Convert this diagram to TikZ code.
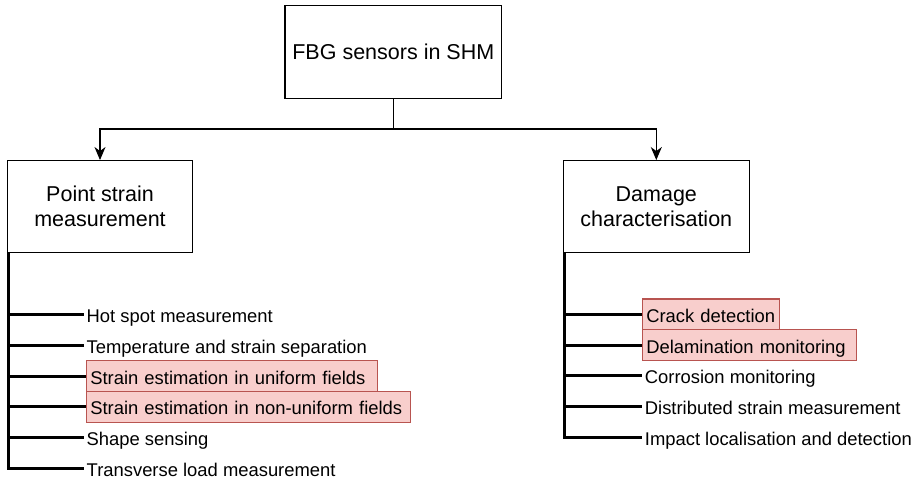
\documentclass[tikz,border=0pt]{standalone}
\usepackage{fontspec}
\setmainfont{Liberation Sans}
\usetikzlibrary{arrows.meta}
\definecolor{redfill}{HTML}{F8CECC}
\definecolor{redline}{HTML}{B85450}
\begin{document}
\begin{tikzpicture}[x=1pt,y=-1pt,
  box/.style={draw, line width=1.3pt, align=center, inner sep=0pt, font=\fontsize{21.5}{25}\selectfont},
  conn/.style={line width=1.3pt, -{Stealth[length=13pt,width=11pt,inset=4pt]}},
  trunk/.style={line width=3pt},
  item/.style={anchor=west, inner xsep=3pt, inner ysep=4pt, text height=19.5pt, text depth=3.5pt, font=\fontsize{18.4}{22}\selectfont},
  hl/.style={item, fill=redfill, draw=redline, line width=1.2pt, inner xsep=4pt}]
\useasboundingbox (0,0) rectangle (917,482);

% main boxes
\node[box, minimum width=216.7pt, minimum height=92.6pt] (top) at (393.3,52) {FBG sensors in SHM};
\node[box, minimum width=185.4pt, minimum height=92pt] (lb) at (100,206.7) {Point strain\\measurement};
\node[box, minimum width=186pt, minimum height=92pt] (rb) at (656.3,206.7) {Damage\\characterisation};

% connectors from the root
\coordinate (sp) at (394,129);
\draw[conn] (top.south) -- (top.south |- sp) -| (lb.north);
\draw[conn] (top.south) -- (top.south |- sp) -| (rb.north);

% left items
\node[item] (l1) at (83.5,314.5) {Hot spot measurement};
\node[item] (l2) at (83.5,345.2) {Temperature and strain separation};
\node[hl, text width=283pt] (l3) at (85.7,376.2) {\mbox{Strain estimation in uniform fields}};
\node[hl, text width=315.8pt] (l4) at (85.7,406.9) {\mbox{Strain estimation in non-uniform fields}};
\node[item] (l5) at (83.5,437.3) {Shape sensing};
\node[item] (l6) at (83.5,468) {Transverse load measurement};

\coordinate (lt) at ([xshift=1.4pt]lb.south west);
\foreach \n in {l1,l2,l3,l4,l5,l6}{\draw[trunk] (lt) |- (\n.west);}

% right items
\node[hl, text width=129.5pt] (r1) at (641.7,314.5) {\mbox{Crack detection}};
\node[hl, text width=206.4pt] (r2) at (641.7,345.2) {\mbox{Delamination monitoring}};
\node[item] (r3) at (641.7,375.9) {Corrosion monitoring};
\node[item] (r4) at (641.7,406.6) {Distributed strain measurement};
\node[item] (r5) at (641.7,437.3) {Impact localisation and detection};

\coordinate (rt) at ([xshift=1.4pt]rb.south west);
\foreach \n in {r1,r2,r3,r4,r5}{\draw[trunk] (rt) |- (\n.west);}
\end{tikzpicture}
\end{document}
